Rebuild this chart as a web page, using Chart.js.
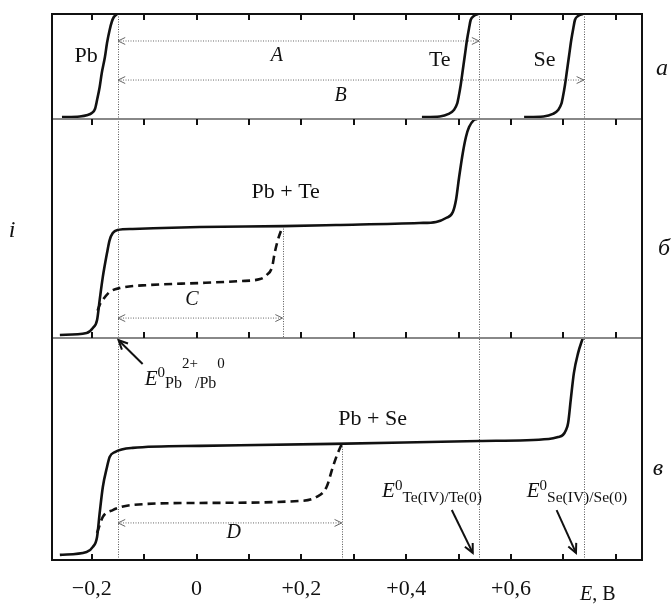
<!DOCTYPE html>
<html>
<head>
<meta charset="utf-8">
<script src="https://cdn.jsdelivr.net/npm/chart.js@4"></script>
<style>
  body { margin: 0; background: #fff; }
  #wrap { width: 672px; height: 606px; }
</style>
</head>
<body>
<div id="wrap"><canvas id="chart"></canvas></div>
<script>
const SERIF = "'Liberation Serif', 'Times New Roman', serif";

// x axis: potential E, V
const xMin = -0.276, xMax = 0.85;
const tickMarks = [-0.2, -0.1, 0, 0.1, 0.2, 0.3, 0.4, 0.5, 0.6, 0.7, 0.8];
const tickValues = [-0.2, 0, 0.2, 0.4, 0.6];
const tickLabels = ['−0,2', '0', '+0,2', '+0,4', '+0,6'];

// panel а: single element waves (relative current 0..1)
const pbE = [-0.257, -0.223, -0.208, -0.200, -0.194, -0.190, -0.185, -0.181, -0.175, -0.171, -0.166, -0.162, -0.158, -0.152];
const pbI = [0.019, 0.024, 0.038, 0.057, 0.095, 0.181, 0.305, 0.438, 0.590, 0.724, 0.848, 0.924, 0.971, 1.0];
const teE = [0.430, 0.464, 0.481, 0.491, 0.497, 0.500, 0.504, 0.508, 0.512, 0.516, 0.520, 0.523, 0.529, 0.537];
const teI = [0.019, 0.024, 0.048, 0.086, 0.143, 0.210, 0.324, 0.467, 0.610, 0.752, 0.867, 0.943, 0.981, 1.0];
const seE = [0.625, 0.662, 0.680, 0.690, 0.696, 0.699, 0.703, 0.707, 0.711, 0.715, 0.719, 0.722, 0.728, 0.737];
const seI = [0.019, 0.024, 0.048, 0.086, 0.143, 0.210, 0.324, 0.467, 0.610, 0.752, 0.867, 0.943, 0.981, 1.0];

// panel б: Pb + Te
const pbTeE = [-0.261, -0.210, -0.198, -0.190, -0.185, -0.179, -0.171, -0.166, -0.160, -0.151, -0.122, 0.006, 0.165, 0.266, 0.425, 0.457, 0.476, 0.489, 0.495, 0.501, 0.508, 0.514, 0.520, 0.529, 0.535];
const pbTeI = [0.014, 0.023, 0.046, 0.082, 0.174, 0.279, 0.388, 0.447, 0.479, 0.493, 0.498, 0.507, 0.511, 0.516, 0.525, 0.530, 0.548, 0.575, 0.630, 0.735, 0.845, 0.918, 0.963, 0.995, 1.0];
const pbTeDashE = [-0.189, -0.185, -0.179, -0.166, -0.147, -0.089, 0.006, 0.083, 0.121, 0.134, 0.144, 0.149, 0.155, 0.164];
const pbTeDashI = [0.125, 0.151, 0.174, 0.210, 0.228, 0.242, 0.251, 0.260, 0.269, 0.288, 0.324, 0.388, 0.447, 0.509];

// panel в: Pb + Se
const pbSeE = [-0.261, -0.210, -0.198, -0.190, -0.185, -0.179, -0.171, -0.166, -0.156, -0.122, 0.006, 0.260, 0.539, 0.672, 0.690, 0.699, 0.705, 0.709, 0.714, 0.720, 0.728, 0.737];
const pbSeI = [0.023, 0.036, 0.059, 0.104, 0.212, 0.329, 0.419, 0.464, 0.486, 0.505, 0.514, 0.523, 0.536, 0.545, 0.554, 0.563, 0.586, 0.617, 0.721, 0.842, 0.932, 1.0];
const pbSeDashE = [-0.190, -0.179, -0.160, -0.122, 0.006, 0.197, 0.229, 0.248, 0.260, 0.268, 0.277];
const pbSeDashI = [0.122, 0.194, 0.225, 0.248, 0.257, 0.266, 0.284, 0.329, 0.419, 0.473, 0.523];

// standard potentials (dotted verticals) and ends of C, D
const eMarks = [-0.15, 0.539, 0.739];
const eC = 0.164, eD = 0.277;

function pts(xs, ys) {
  return xs.map((x, i) => ({ x: x, y: ys[i] }));
}

function curve(xs, ys, axis, dashed) {
  return {
    data: pts(xs, ys),
    yAxisID: axis,
    borderColor: '#111',
    borderWidth: 2.6,
    borderDash: dashed ? [8, 5] : [],
    pointRadius: 0,
    cubicInterpolationMode: 'monotone',
    fill: false
  };
}

function txt(ctx, s, x, y, size, italic, align) {
  ctx.font = (italic ? 'italic ' : '') + size + 'px ' + SERIF;
  ctx.textAlign = align || 'center';
  ctx.textBaseline = 'middle';
  ctx.fillText(s, x, y);
}

function rich(ctx, x, y, parts) {
  ctx.textAlign = 'left';
  ctx.textBaseline = 'alphabetic';
  for (const p of parts) {
    ctx.font = (p.it ? 'italic ' : '') + p.s + 'px ' + SERIF;
    ctx.fillText(p.t, x + (p.dx || 0), y + (p.dy || 0));
    x += ctx.measureText(p.t).width + (p.dx || 0);
  }
}

function head(ctx, x, y, ang, len) {
  ctx.beginPath();
  ctx.moveTo(x + len * Math.cos(ang + 0.45), y + len * Math.sin(ang + 0.45));
  ctx.lineTo(x, y);
  ctx.lineTo(x + len * Math.cos(ang - 0.45), y + len * Math.sin(ang - 0.45));
  ctx.stroke();
}

function dimArrow(ctx, x1, x2, y) {
  ctx.save();
  ctx.strokeStyle = '#666';
  ctx.lineWidth = 1;
  ctx.setLineDash([1, 1.5]);
  ctx.beginPath();
  ctx.moveTo(x1, y);
  ctx.lineTo(x2, y);
  ctx.stroke();
  ctx.setLineDash([]);
  head(ctx, x1, y, 0, 8);
  head(ctx, x2, y, Math.PI, 8);
  ctx.restore();
}

function blackArrow(ctx, x1, y1, x2, y2) {
  ctx.save();
  ctx.strokeStyle = '#111';
  ctx.lineWidth = 2;
  ctx.beginPath();
  ctx.moveTo(x1, y1);
  ctx.lineTo(x2, y2);
  ctx.stroke();
  head(ctx, x2, y2, Math.atan2(y1 - y2, x1 - x2), 10);
  ctx.restore();
}

const decor = {
  id: 'decor',
  beforeDatasetsDraw(chart) {
    const ctx = chart.ctx;
    const { top, bottom } = chart.chartArea;
    const x = chart.scales.x, yA = chart.scales.yA, yB = chart.scales.yB, yC = chart.scales.yC;
    ctx.save();
    ctx.strokeStyle = '#555';
    ctx.lineWidth = 1;
    ctx.setLineDash([1, 1.5]);
    ctx.beginPath();
    eMarks.forEach(e => {
      const px = Math.round(x.getPixelForValue(e)) + 0.5;
      ctx.moveTo(px, top);
      ctx.lineTo(px, bottom);
    });
    const pc = Math.round(x.getPixelForValue(eC)) + 0.5;
    ctx.moveTo(pc, yB.getPixelForValue(0.511));
    ctx.lineTo(pc, yB.bottom);
    const pd = Math.round(x.getPixelForValue(eD)) + 0.5;
    ctx.moveTo(pd, yC.getPixelForValue(0.523));
    ctx.lineTo(pd, yC.bottom);
    ctx.stroke();
    ctx.restore();

    const p0 = x.getPixelForValue(eMarks[0]);
    dimArrow(ctx, p0, x.getPixelForValue(eMarks[1]), yA.getPixelForValue(0.743));
    dimArrow(ctx, p0, x.getPixelForValue(eMarks[2]), yA.getPixelForValue(0.371));
    dimArrow(ctx, p0, x.getPixelForValue(eC), yB.getPixelForValue(0.091));
    dimArrow(ctx, p0, x.getPixelForValue(eD), yC.getPixelForValue(0.167));
  },
  afterDatasetsDraw(chart) {
    const ctx = chart.ctx;
    const { left, right, top, bottom } = chart.chartArea;
    const x = chart.scales.x, yA = chart.scales.yA, yB = chart.scales.yB, yC = chart.scales.yC;
    const px = v => x.getPixelForValue(v);

    // panel separators
    ctx.save();
    ctx.strokeStyle = '#888';
    ctx.lineWidth = 2;
    ctx.beginPath();
    ctx.moveTo(left, yA.bottom); ctx.lineTo(right, yA.bottom);
    ctx.moveTo(left, yB.bottom); ctx.lineTo(right, yB.bottom);
    ctx.stroke();

    // frame
    ctx.strokeStyle = '#111';
    ctx.strokeRect(left, top, right - left, bottom - top);

    // inward tick marks
    ctx.beginPath();
    tickMarks.forEach(v => {
      const p = Math.round(px(v));
      ctx.moveTo(p, top); ctx.lineTo(p, top + 6);
      ctx.moveTo(p, yA.bottom); ctx.lineTo(p, yA.bottom + 6);
      ctx.moveTo(p, yB.bottom); ctx.lineTo(p, yB.bottom - 6);
      ctx.moveTo(p, bottom); ctx.lineTo(p, bottom - 6);
    });
    ctx.stroke();
    ctx.restore();

    // black arrows to standard potentials
    blackArrow(ctx, px(-0.103), yC.getPixelForValue(0.883), px(-0.149), yC.getPixelForValue(0.99));
    blackArrow(ctx, px(0.487), yC.getPixelForValue(0.225), px(0.527), yC.getPixelForValue(0.032));
    blackArrow(ctx, px(0.687), yC.getPixelForValue(0.225), px(0.724), yC.getPixelForValue(0.032));

    ctx.save();
    ctx.fillStyle = '#111';
    txt(ctx, 'Pb', px(-0.211), yA.getPixelForValue(0.60), 22);
    txt(ctx, 'Te', px(0.464), yA.getPixelForValue(0.562), 22);
    txt(ctx, 'Se', px(0.664), yA.getPixelForValue(0.562), 22);
    txt(ctx, 'A', px(0.153), yA.getPixelForValue(0.60), 20, true);
    txt(ctx, 'B', px(0.275), yA.getPixelForValue(0.219), 20, true);
    txt(ctx, 'Pb + Te', px(0.170), yB.getPixelForValue(0.667), 22);
    txt(ctx, 'C', px(-0.009), yB.getPixelForValue(0.174), 20, true);
    txt(ctx, 'Pb + Se', px(0.336), yC.getPixelForValue(0.635), 22);
    txt(ctx, 'D', px(0.071), yC.getPixelForValue(0.122), 20, true);

    rich(ctx, px(-0.099), yC.getPixelForValue(0.788), [
      { t: 'E', s: 21, it: true },
      { t: '0', s: 15, dy: -8 },
      { t: 'Pb', s: 16, dy: 3 },
      { t: '2+', s: 15, dy: -17 },
      { t: '/Pb', s: 16, dy: 3, dx: -3 },
      { t: '0', s: 15, dy: -17, dx: 1 }
    ]);
    rich(ctx, px(0.354), yC.getPixelForValue(0.284), [
      { t: 'E', s: 21, it: true },
      { t: '0', s: 15, dy: -7 },
      { t: 'Te(IV)/Te(0)', s: 15.5, dy: 5 }
    ]);
    rich(ctx, px(0.630), yC.getPixelForValue(0.284), [
      { t: 'E', s: 21, it: true },
      { t: '0', s: 15, dy: -7 },
      { t: 'Se(IV)/Se(0)', s: 15.5, dy: 5 }
    ]);

    // outer labels
    txt(ctx, 'i', 12, (yB.top + yB.bottom) / 2 + 2, 24, true);
    txt(ctx, 'а', right + 20, yA.getPixelForValue(0.48), 24, true);
    txt(ctx, 'б', right + 22, yB.getPixelForValue(0.41), 24, true);
    txt(ctx, 'в', right + 16, yC.getPixelForValue(0.41), 24, true);
    rich(ctx, right - 62, chart.height - 6, [
      { t: 'E', s: 20, it: true },
      { t: ', В', s: 20 }
    ]);
    ctx.restore();
  }
};

const hiddenY = {
  type: 'linear',
  position: 'right',
  stack: 'i',
  min: 0,
  max: 1,
  ticks: { display: false },
  grid: { display: false, drawTicks: false },
  border: { display: false }
};

new Chart(document.getElementById('chart'), {
  type: 'line',
  data: {
    datasets: [
      curve(pbE, pbI, 'yA'),
      curve(teE, teI, 'yA'),
      curve(seE, seI, 'yA'),
      curve(pbTeE, pbTeI, 'yB'),
      curve(pbTeDashE, pbTeDashI, 'yB', true),
      curve(pbSeE, pbSeI, 'yC'),
      curve(pbSeDashE, pbSeDashI, 'yC', true)
    ]
  },
  options: {
    responsive: true,
    maintainAspectRatio: false,
    animation: false,
    layout: { padding: { left: 52, right: 30, top: 14, bottom: 0 } },
    plugins: {
      legend: { display: false },
      tooltip: { enabled: false }
    },
    scales: {
      x: {
        type: 'linear',
        position: 'bottom',
        min: xMin,
        max: xMax,
        grid: { display: false, drawTicks: false },
        border: { display: false },
        afterBuildTicks: scale => {
          scale.ticks = tickValues.map(v => ({ value: v }));
        },
        afterFit: scale => { scale.height = 46; },
        ticks: {
          padding: 16,
          color: '#111',
          font: { family: SERIF, size: 22 },
          callback: v => tickLabels[tickValues.indexOf(v)]
        }
      },
      yA: Object.assign({}, hiddenY, { stackWeight: 105 }),
      yB: Object.assign({}, hiddenY, { stackWeight: 219 }),
      yC: Object.assign({}, hiddenY, { stackWeight: 222 })
    }
  },
  plugins: [decor]
});
</script>
</body>
</html>
